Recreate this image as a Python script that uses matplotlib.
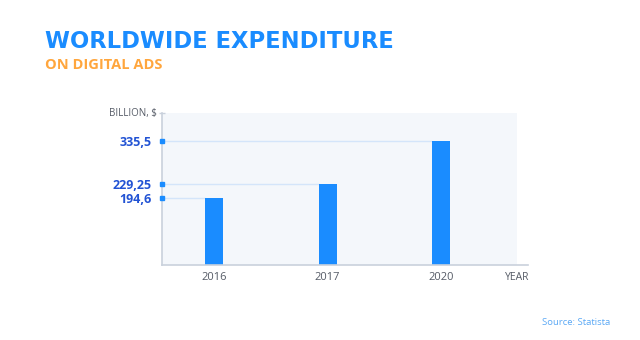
import matplotlib.pyplot as plt
import numpy as np

YEARS = ["2016", "2017", "2020"]
SPEND_BN = [194.6, 229.25, 335.5]
SPEND_LABELS = ["194,6", "229,25", "335,5"]

BLUE = "#1a8cff"
DARK_BLUE = "#2253d4"
ORANGE = "#ffa63d"
GREY_TEXT = "#555b66"
AXIS_GREY = "#c9d1dc"
GRID_BLUE = "#d4e5fa"
PANEL_BG = "#f4f7fb"

plt.rcParams["font.family"] = ["Open Sans", "DejaVu Sans"]

fig = plt.figure(figsize=(6.4, 3.4), dpi=100)
fig.patch.set_facecolor("white")

fig.text(0.070, 0.860, "WORLDWIDE EXPENDITURE", color=BLUE,
         fontsize=16.3, fontweight="bold", family="DejaVu Sans",
         va="baseline", ha="left")
fig.text(0.070, 0.797, "ON DIGITAL ADS", color=ORANGE,
         fontsize=10.5, fontweight="bold", va="baseline", ha="left")

ax = fig.add_axes([0.2531, 0.2206, 0.5547, 0.447])
ax.set_facecolor(PANEL_BG)

x = np.arange(len(YEARS))
bar_width = 0.16
ax.set_xlim(-0.46, 2.67)
ax.set_ylim(27, 405)

# guide lines run from the y axis to the left edge of each bar
ax.hlines(SPEND_BN, xmin=-0.46, xmax=x - bar_width / 2,
          color=GRID_BLUE, linewidth=1.0, zorder=1)
ax.bar(x, SPEND_BN, width=bar_width, color=BLUE, zorder=3)

for side in ["top", "right", "bottom"]:
    ax.spines[side].set_visible(False)
ax.spines["left"].set_color(AXIS_GREY)
ax.spines["left"].set_linewidth(1.2)

# x axis line runs a little past the panel
ax.plot([0, 1.031], [0, 0], transform=ax.transAxes, color=AXIS_GREY,
        linewidth=1.2, clip_on=False, zorder=4)
ax.plot([0], [1.0], transform=ax.transAxes, marker="_", markersize=5,
        color=AXIS_GREY, clip_on=False)

# tick dots on the y axis
ax.plot(np.full(len(SPEND_BN), -0.46), SPEND_BN, linestyle="none",
        marker="s", markersize=2.6, color=BLUE, clip_on=False, zorder=5)

ax.set_yticks(SPEND_BN)
ax.set_yticklabels(SPEND_LABELS, fontsize=9, fontweight="bold",
                   color=DARK_BLUE)
ax.tick_params(axis="y", length=0, pad=7.5)
ax.set_xticks(x)
ax.set_xticklabels(YEARS, fontsize=8, color=GREY_TEXT)
ax.tick_params(axis="x", length=0, pad=5)

ax.text(-0.015, 1.0, "BILLION, $", transform=ax.transAxes, ha="right",
        va="center", fontsize=7, color=GREY_TEXT)
ax.text(1.0, -0.08, "YEAR", transform=ax.transAxes, ha="center",
        va="center", fontsize=7.5, color=GREY_TEXT)

fig.text(0.953, 0.045, "Source: Statista", color="#5aa8f5", fontsize=6.8,
         ha="right", va="baseline")

fig.savefig("out.png", dpi=100, facecolor=fig.get_facecolor())
